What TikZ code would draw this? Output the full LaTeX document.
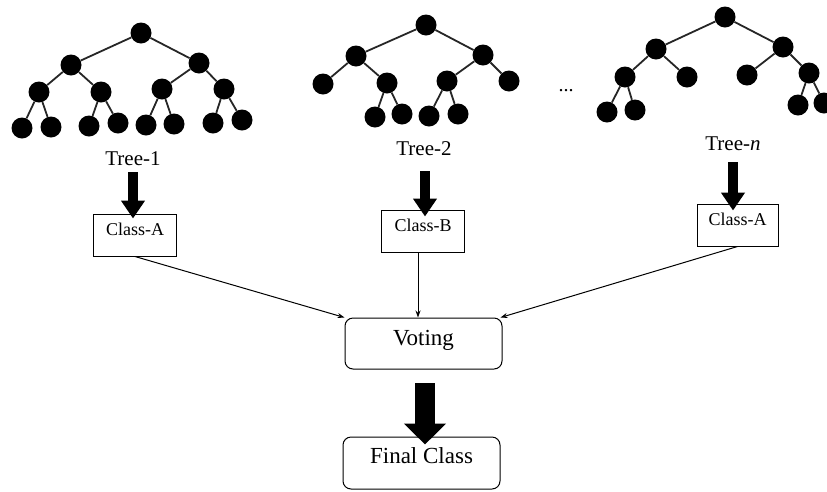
\documentclass[tikz,border=0pt]{standalone}
\usepackage{fontspec}
\setmainfont{Liberation Serif}
\usetikzlibrary{arrows.meta}
\begin{document}
\begin{tikzpicture}[x=1pt,y=-1pt,
  tn/.style={circle,fill=black,inner sep=0pt,minimum size=21pt},
  te/.style={line width=1.8pt,black!85},
  lbl/.style={font=\fontsize{21}{24}\selectfont,inner sep=0pt,anchor=base},
  classbox/.style={draw,line width=1pt,inner sep=0pt,text height=21pt,text depth=21pt,minimum width=83pt,anchor=base,font=\fontsize{18}{20}\selectfont},
  roundbox/.style={draw,line width=1pt,rounded corners=8pt,inner sep=0pt,minimum width=157pt,anchor=base,font=\fontsize{23}{26}\selectfont},
  bigarrow/.style={line width=10pt,-{Triangle[length=18pt,width=23pt]}},
  hugearrow/.style={line width=20pt,-{Triangle[length=21pt,width=41pt]}},
  thin/.style={line width=1pt,-{Stealth[length=7pt,width=5pt]}}
]
\useasboundingbox (0,0) rectangle (827,491);
\clip (0,0) rectangle (827,491);
% Tree 1
\node[tn] (r1) at (141,33) {};
\node[tn] (a1) at (71,65) {};
\node[tn] (b1) at (199,63) {};
\node[tn] (aa1) at (39,92) {};
\node[tn] (ab1) at (101,92) {};
\node[tn] (ba1) at (162,89) {};
\node[tn] (bb1) at (224,89) {};
\node[tn] (aaa1) at (22,128) {};
\node[tn] (aab1) at (51,127) {};
\node[tn] (aba1) at (89,126) {};
\node[tn] (abb1) at (118,123) {};
\node[tn] (baa1) at (146,125) {};
\node[tn] (bab1) at (174,124) {};
\node[tn] (bba1) at (213,123) {};
\node[tn] (bbb1) at (242,120) {};
\draw[te] (r1)--(a1) (r1)--(b1) (a1)--(aa1) (a1)--(ab1) (b1)--(ba1) (b1)--(bb1)
  (aa1)--(aaa1) (aa1)--(aab1) (ab1)--(aba1) (ab1)--(abb1)
  (ba1)--(baa1) (ba1)--(bab1) (bb1)--(bba1) (bb1)--(bbb1);
% Tree 2
\node[tn] (r2) at (426,25) {};
\node[tn] (a2) at (356,56) {};
\node[tn] (b2) at (483,55) {};
\node[tn] (aa2) at (323,84) {};
\node[tn] (ab2) at (387,83) {};
\node[tn] (ba2) at (447,81) {};
\node[tn] (bb2) at (509,81) {};
\node[tn] (aba2) at (375,117) {};
\node[tn] (abb2) at (402,114) {};
\node[tn] (baa2) at (429,116) {};
\node[tn] (bab2) at (458,114) {};
\draw[te] (r2)--(a2) (r2)--(b2) (a2)--(aa2) (a2)--(ab2) (b2)--(ba2) (b2)--(bb2)
  (ab2)--(aba2) (ab2)--(abb2) (ba2)--(baa2) (ba2)--(bab2);
% Tree 3
\node[tn] (r3) at (725,17) {};
\node[tn] (a3) at (656,49) {};
\node[tn] (b3) at (783,47) {};
\node[tn] (aa3) at (625,77) {};
\node[tn] (ab3) at (687,77) {};
\node[tn] (ba3) at (747,75) {};
\node[tn] (bb3) at (809,73) {};
\node[tn] (aaa3) at (607,112) {};
\node[tn] (aab3) at (635,110) {};
\node[tn] (bba3) at (798,105) {};
\node[tn] (bbb3) at (824,103) {};
\draw[te] (r3)--(a3) (r3)--(b3) (a3)--(aa3) (a3)--(ab3) (b3)--(ba3) (b3)--(bb3)
  (aa3)--(aaa3) (aa3)--(aab3) (bb3)--(bba3) (bb3)--(bbb3);
% dots
\node[font=\fontsize{20}{22}\selectfont,inner sep=0pt,anchor=base] (dots) at (566,91) {...};
% labels
\node[lbl] (t1) at (133,165) {Tree-1};
\node[lbl] (t2) at (424,155) {Tree-2};
\node[lbl] (t3) at (733,150) {Tree-\textit{n}};
% class boxes
\node[classbox] (c1) at (135,235) {Class-A};
\node[classbox] (c2) at (423,231) {Class-B};
\node[classbox,minimum width=81pt] (c3) at (737.5,225) {Class-A};
% voting and final
\node[roundbox,text height=27pt,text depth=24pt] (vote) at (423.5,345) {Voting};
\node[roundbox,text height=26pt,text depth=26pt] (final) at (421.5,463) {Final Class};
% thick arrows
\coordinate (s1) at (133,172);
\coordinate (s2) at (425,171);
\coordinate (s3) at (733,162);
\draw[bigarrow] (s1) -- ([yshift=-5pt]s1 |- c1.north);
\draw[bigarrow] (s2) -- ([yshift=-7pt]s2 |- c2.north);
\draw[bigarrow] (s3) -- ([yshift=-7pt]s3 |- c3.north);
\coordinate (s4) at (425,383);
\draw[hugearrow] (s4) -- ([yshift=-8pt]s4 |- final.north);
% thin connectors
\draw[thin] (c1.south) -- (vote.north west);
\draw[thin] (c2.south -| 418,0) -- (418,0 |- vote.north);
\draw[thin] (c3.south) -- ([xshift=-2pt]vote.north east);
\end{tikzpicture}
\end{document}
